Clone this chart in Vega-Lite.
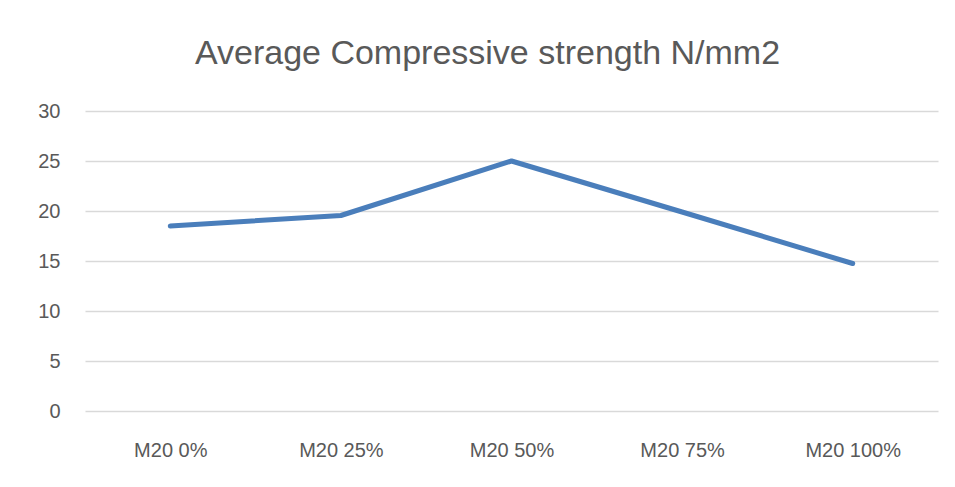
{
  "$schema": "https://vega.github.io/schema/vega-lite/v6.json",
  "width": 853,
  "height": 300,
  "autosize": {"type": "none"},
  "padding": {"left": 85, "top": 111, "right": 17, "bottom": 76},
  "background": "white",
  "title": {
    "text": "Average Compressive strength N/mm2",
    "font": "Liberation Sans",
    "fontSize": 34,
    "fontWeight": "normal",
    "color": "#595959",
    "anchor": "middle",
    "frame": "group",
    "dx": -24,
    "offset": 30
  },
  "data": {
    "values": [
      {"mix": "M20 0%", "strength": 18.5},
      {"mix": "M20 25%", "strength": 19.55},
      {"mix": "M20 50%", "strength": 25.0},
      {"mix": "M20 75%", "strength": 19.9},
      {"mix": "M20 100%", "strength": 14.75}
    ]
  },
  "mark": {"type": "line", "color": "#4a7ebb", "strokeWidth": 5, "strokeCap": "round", "strokeJoin": "round"},
  "encoding": {
    "x": {
      "field": "mix",
      "type": "ordinal",
      "sort": null,
      "scale": {"type": "point", "padding": 0.5},
      "axis": {
        "title": null,
        "labelAngle": 0,
        "labelFont": "Liberation Sans",
        "labelFontSize": 20,
        "labelColor": "#595959",
        "labelPadding": 29,
        "ticks": false,
        "domain": false,
        "grid": false
      }
    },
    "y": {
      "field": "strength",
      "type": "quantitative",
      "scale": {"domain": [0, 30], "nice": false},
      "axis": {
        "title": null,
        "values": [0, 5, 10, 15, 20, 25, 30],
        "labelFont": "Liberation Sans",
        "labelFontSize": 20,
        "labelColor": "#595959",
        "labelPadding": 25,
        "ticks": false,
        "domain": false,
        "grid": true,
        "gridColor": "#d9d9d9",
        "gridWidth": 1.5
      }
    }
  },
  "config": {"view": {"stroke": null}}
}
